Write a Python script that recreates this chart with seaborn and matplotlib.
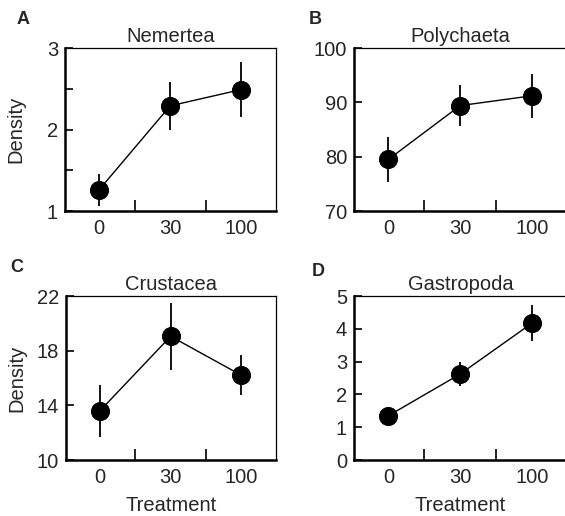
import pandas as pd
import matplotlib
matplotlib.use("Agg")
import matplotlib.pyplot as plt
import seaborn as sns

treatments = ["0", "30", "100"]

taxa    = ["Nemertea", "Polychaeta", "Crustacea", "Gastropoda"]
letters = ["A", "B", "C", "D"]

nemertea_mean   = [1.26, 2.29, 2.49]
nemertea_se     = [0.20, 0.29, 0.34]
polychaeta_mean = [79.5, 89.4, 91.2]
polychaeta_se   = [4.2, 3.8, 4.0]
crustacea_mean  = [13.6, 19.05, 16.2]
crustacea_se    = [1.9, 2.45, 1.45]
gastropoda_mean = [1.35, 2.62, 4.17]
gastropoda_se   = [0.12, 0.36, 0.55]

means = [nemertea_mean, polychaeta_mean, crustacea_mean, gastropoda_mean]
ses   = [nemertea_se, polychaeta_se, crustacea_se, gastropoda_se]

ylims  = [(1, 3), (70, 100), (10, 22), (0, 5)]
yticks = [[1, 2, 3], [70, 80, 90, 100], [10, 14, 18, 22], [0, 1, 2, 3, 4, 5]]
yminor = [[1.5, 2.5], [], [], []]

sns.set_theme(style="white")
plt.rcParams["font.family"] = ["Liberation Sans", "DejaVu Sans"]

W, H = 565, 516
fig = plt.figure(figsize=(W / 100, H / 100), dpi=100)

# axes boxes in pixels: left, top, width, height
boxes = [(65, 48, 211, 163), (354, 48, 213, 163),
         (66, 296, 210, 164), (354, 296, 213, 164)]
letter_pos = [(23, 20), (315, 20), (17, 267), (318, 272)]
fs = 14.5

for i, (taxon, mean, se) in enumerate(zip(taxa, means, ses)):
    l, t, w, h = boxes[i]
    ax = fig.add_axes([l / W, 1 - (t + h) / H, w / W, h / H])
    df = pd.DataFrame({"Treatment": treatments, "Density": mean, "se": se})

    ax.vlines(range(len(df)), df["Density"] - df["se"], df["Density"] + df["se"],
              color="black", linewidth=1.3, zorder=2)
    sns.pointplot(data=df, x="Treatment", y="Density", color="black",
                  markers="o", markersize=13, linewidth=1.0,
                  errorbar=None, ax=ax, zorder=3)

    ax.set_xlim(-0.48, 2.49)
    ax.set_ylim(*ylims[i])
    ax.set_yticks(yticks[i])
    ax.set_yticks(yminor[i], minor=True)
    ax.set_xticks([0, 1, 2])
    ax.set_xticklabels(treatments)
    ax.set_xticks([0.5, 1.5], minor=True)

    ax.tick_params(axis="x", which="major", length=0, pad=6, labelsize=fs)
    ax.tick_params(axis="x", which="minor", direction="in", length=8,
                   width=1.2, bottom=True, color="black")
    ax.tick_params(axis="y", which="both", direction="in", length=6,
                   width=1.2, left=True, pad=5, labelsize=fs, color="black")

    for side in ["left", "bottom"]:
        ax.spines[side].set_linewidth(1.8)
    for side in ["top", "right"]:
        ax.spines[side].set_linewidth(0.9)
    for s in ax.spines.values():
        s.set_color("black")

    ax.set_title(taxon, fontsize=fs, pad=4)
    ax.set_ylabel("Density" if i % 2 == 0 else "", fontsize=fs)
    ax.yaxis.set_label_coords(-0.19, 0.5)
    ax.set_xlabel("Treatment" if i >= 2 else "", fontsize=fs, labelpad=6)

    lx, ly = letter_pos[i]
    fig.text(lx / W, 1 - ly / H, letters[i], fontsize=13, fontweight="bold",
             ha="center", va="center")

fig.savefig("out.png", dpi=100)
